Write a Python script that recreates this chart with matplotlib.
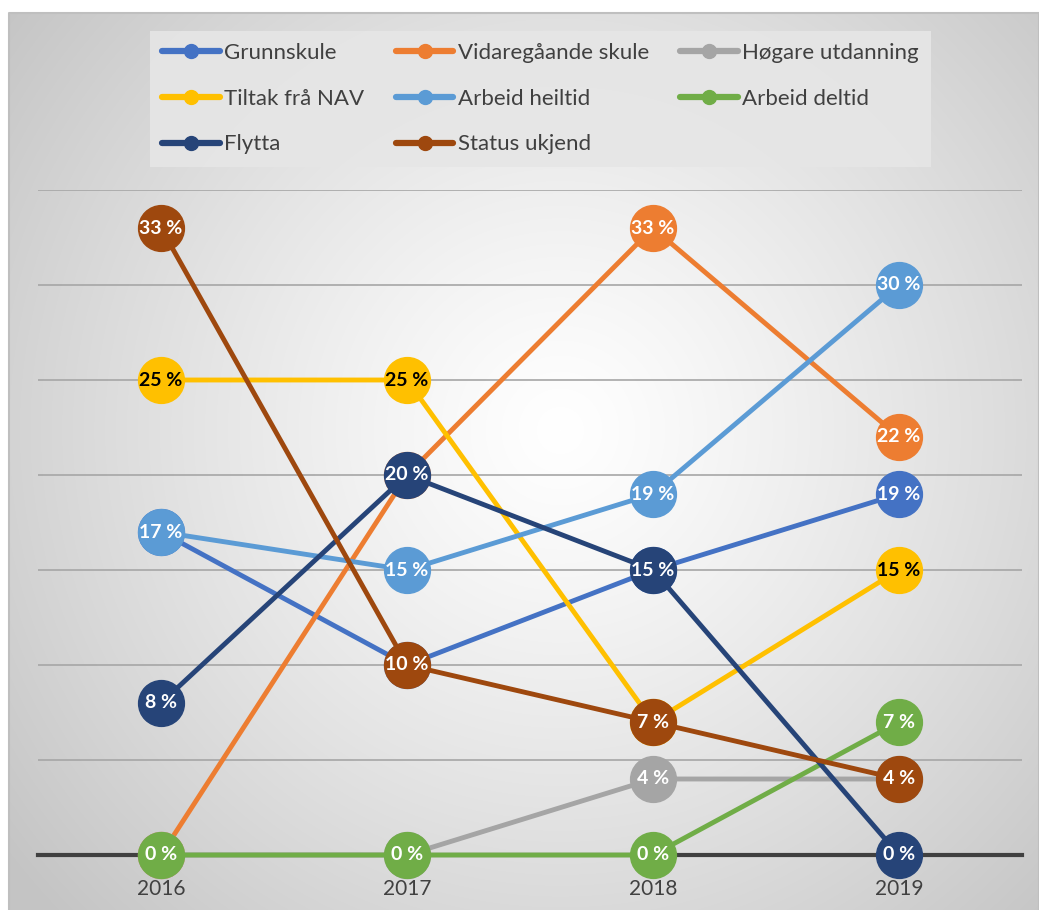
import numpy as np
import matplotlib.pyplot as plt
from matplotlib.lines import Line2D

plt.rcParams['font.family'] = ['Lato', 'DejaVu Sans']

# Data (share in %)
years = ['2016', '2017', '2018', '2019']
grunnskule = [17, 10, 15, 19]
vidaregaande = [0, 20, 33, 22]
hogare = [0, 0, 4, 4]
tiltak_nav = [25, 25, 7, 15]
arbeid_heiltid = [17, 15, 19, 30]
arbeid_deltid = [0, 0, 0, 7]
flytta = [8, 20, 15, 0]
status_ukjend = [33, 10, 7, 4]

series = [
    ('Grunnskule', grunnskule, '#4472C4', 'white'),
    ('Vidaregåande skule', vidaregaande, '#ED7D31', 'white'),
    ('Høgare utdanning', hogare, '#A5A5A5', 'white'),
    ('Tiltak frå NAV', tiltak_nav, '#FFC000', 'black'),
    ('Arbeid heiltid', arbeid_heiltid, '#5B9BD5', 'white'),
    ('Arbeid deltid', arbeid_deltid, '#70AD47', 'white'),
    ('Flytta', flytta, '#264478', 'white'),
    ('Status ukjend', status_ukjend, '#9E480E', 'white'),
]

W, H = 1039, 910
fig = plt.figure(figsize=(W / 100, H / 100), dpi=100)
fig.patch.set_facecolor('white')

# radial gradient background
bg = fig.add_axes([0, 0, 1, 1], zorder=0)
bg.set_xlim(0, W)
bg.set_ylim(H, 0)
bg.axis('off')
yy, xx = np.mgrid[13:H, 9:W]
r = np.hypot(xx - 560, yy - 430) / 700
shade = 1.0 - 0.23 * np.clip(r, 0, 1) ** 1.2
img = np.dstack([shade, shade, shade])
bg.imshow(img, extent=[9, W, H, 13], aspect='auto')
bg.plot([9, 9, W, W], [H, 13, 13, H], color='#bfbfbf', lw=1.5)

ax = fig.add_axes([38 / W, 55 / H, 984 / W, 665 / H], zorder=1)
ax.set_facecolor('none')
x = np.arange(len(years))
ax.set_xlim(-0.5, 3.5)
ax.set_ylim(0, 35)

ax.set_yticks(np.arange(5, 36, 5))
ax.yaxis.grid(True, color='#a6a6a6', lw=1.2)
ax.set_axisbelow(True)
ax.tick_params(axis='y', left=False, labelleft=False)
ax.axhline(0, color='#404040', lw=3, zorder=1.5, clip_on=False)
for s in ax.spines.values():
    s.set_visible(False)

ax.set_xticks(x, years)
ax.tick_params(axis='x', length=0, pad=17, labelsize=15, labelcolor='#404040')

for i, (name, vals, col, tcol) in enumerate(series):
    z = 3 + 2 * i
    ax.plot(x, vals, color=col, lw=3.5, marker='o', markersize=33,
            solid_capstyle='round', zorder=z, clip_on=False)
    for xi, v in zip(x, vals):
        ax.text(xi, v, f'{v} %', ha='center', va='center', fontsize=14,
                fontweight='bold', color=tcol, zorder=z + 1, clip_on=False)

# legend, row-wise order like the original
handles = [Line2D([], [], color=c, lw=4.5, marker='o', markersize=10,
                  solid_capstyle='round') for _, _, c, _ in series]
labels = [n for n, _, _, _ in series]
order = [0, 3, 6, 1, 4, 7, 2, 5]
leg = fig.legend([handles[k] for k in order], [labels[k] for k in order],
                 loc='upper left', bbox_to_anchor=(150 / W, 1 - 31 / H),
                 borderaxespad=0, ncol=3, fontsize=16, frameon=True,
                 fancybox=False, facecolor='#e6e6e6', edgecolor='none',
                 framealpha=0.9, handlelength=2.6, handletextpad=0.2,
                 columnspacing=1.4, labelspacing=1.15, borderpad=0.55)
for t in leg.get_texts():
    t.set_color('#404040')
leg.set_zorder(2)

plt.savefig('out.png', dpi=100)
